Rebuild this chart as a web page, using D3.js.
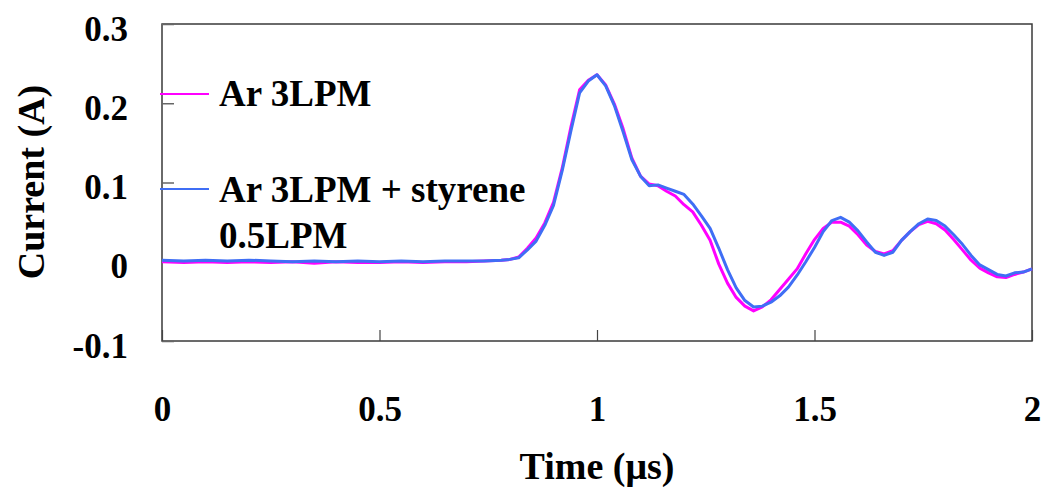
<!DOCTYPE html>
<html><head><meta charset="utf-8">
<script src="https://cdn.jsdelivr.net/npm/d3@7"></script>
<style>html,body{margin:0;padding:0;background:#fff;}svg{display:block;}</style>
</head><body>
<svg id="chart" width="1047" height="497"></svg>
<script>
const time = [0,0.05,0.10,0.15,0.20,0.25,0.30,0.35,0.40,0.45,0.50,0.55,0.60,0.65,0.70,0.74,0.78,
  0.80,0.82,0.84,0.86,0.88,0.90,0.92,0.94,0.96,0.98,1.00,
  1.02,1.04,1.06,1.08,1.10,1.12,1.14,1.16,1.18,1.20,
  1.22,1.24,1.26,1.28,1.30,1.32,1.34,1.36,1.38,1.40,
  1.42,1.44,1.46,1.48,1.50,1.52,1.54,1.56,1.58,1.60,
  1.62,1.64,1.66,1.68,1.70,1.72,1.74,1.76,1.78,1.80,
  1.82,1.84,1.86,1.88,1.90,1.92,1.94,1.96,1.98,2.00];
const arCurrent = [0.000,-0.001,0.000,-0.001,0.000,-0.001,0.000,-0.002,0.000,-0.001,-0.001,0.000,-0.001,0.000,0.000,0.001,0.002,
  0.003,0.006,0.017,0.030,0.049,0.075,0.118,0.170,0.217,0.229,0.236,
  0.223,0.199,0.168,0.131,0.108,
  0.098,0.096,0.089,0.083,0.072,
  0.063,0.046,0.027,-0.003,-0.027,
  -0.045,-0.056,-0.062,-0.057,-0.048,
  -0.035,-0.022,-0.009,0.010,0.028,
  0.042,0.050,0.050,0.045,0.034,
  0.021,0.013,0.010,0.014,0.027,
  0.038,0.047,0.051,0.048,0.040,
  0.028,0.015,0.002,-0.008,-0.014,
  -0.019,-0.020,-0.016,-0.013,-0.009];
const styreneCurrent = [0.002,0.001,0.002,0.001,0.002,0.001,0.000,0.001,0.000,0.001,0.000,0.001,0.000,0.001,0.001,0.001,0.002,
  0.003,0.005,0.015,0.026,0.046,0.071,0.115,0.165,0.213,0.228,0.236,
  0.222,0.197,0.164,0.129,0.108,
  0.096,0.097,0.093,0.089,0.085,
  0.073,0.058,0.042,0.017,-0.010,
  -0.033,-0.049,-0.057,-0.056,-0.051,
  -0.043,-0.032,-0.017,0.000,0.018,
  0.038,0.052,0.056,0.050,0.039,
  0.025,0.012,0.008,0.012,0.027,
  0.038,0.048,0.054,0.052,0.045,
  0.034,0.022,0.008,-0.004,-0.010,
  -0.016,-0.018,-0.014,-0.013,-0.009];
const seriesNames = ["Ar 3LPM", "Ar 3LPM + styrene", "0.5LPM"];
const xTicks = [0, 0.5, 1, 1.5, 2];
const xTickLabels = ["0", "0.5", "1", "1.5", "2"];
const yTicks = [-0.1, 0, 0.1, 0.2, 0.3];
const yTickLabels = ["-0.1", "0", "0.1", "0.2", "0.3"];
const xTitle = "Time (μs)";
const yTitle = "Current (A)";

const svg = d3.select("#chart");
const pLeft = 162, pRight = 1032, pTop = 24, pBottom = 341;
const x = d3.scaleLinear().domain([0, 2]).range([pLeft, pRight]);
const y = d3.scaleLinear().domain([-0.1, 0.3]).range([pBottom, pTop]);
const font = "'Liberation Serif', 'Times New Roman', serif";
const axisColor = "#3a3a3a";

// frame
svg.append("rect").attr("x", pLeft).attr("y", pTop).attr("width", pRight - pLeft).attr("height", pBottom - pTop)
  .attr("fill", "none").attr("stroke", axisColor).attr("stroke-width", 1.5);

// y axis
const yAxis = svg.append("g").attr("transform", `translate(${pLeft},0)`)
  .call(d3.axisLeft(y).tickValues(yTicks).tickSize(-12).tickPadding(34)
    .tickFormat((d, i) => yTickLabels[i]));
yAxis.select(".domain").remove();
yAxis.selectAll("line").attr("stroke", "#666").attr("stroke-width", 1.5);
yAxis.selectAll("text").attr("dy", null).attr("y", 16)
  .attr("font-family", font).attr("font-weight", "bold").attr("font-size", 35).attr("fill", "#000");

// x axis
const xAxis = svg.append("g").attr("transform", `translate(0,${pBottom})`)
  .call(d3.axisBottom(x).tickValues(xTicks).tickSize(-11)
    .tickFormat((d, i) => xTickLabels[i]));
xAxis.select(".domain").remove();
xAxis.selectAll("line").attr("stroke", "#444").attr("stroke-width", 1.2);
xAxis.selectAll("text").attr("dy", null).attr("y", 80)
  .attr("font-family", font).attr("font-weight", "bold").attr("font-size", 35).attr("fill", "#000");

// titles
svg.append("text").attr("x", (pLeft + pRight) / 2).attr("y", 479).attr("text-anchor", "middle")
  .attr("font-family", font).attr("font-weight", "bold").attr("font-size", 38).text(xTitle);
svg.append("text").attr("transform", "translate(44,182) rotate(-90)").attr("text-anchor", "middle")
  .attr("font-family", font).attr("font-weight", "bold").attr("font-size", 38).text(yTitle);

// lines
const line = vals => d3.line().x((d, i) => x(time[i])).y(d => y(d))(vals);
svg.append("path").attr("d", line(arCurrent)).attr("fill", "none")
  .attr("stroke", "#ff00ff").attr("stroke-width", 3).attr("stroke-linejoin", "round");
svg.append("path").attr("d", line(styreneCurrent)).attr("fill", "none")
  .attr("stroke", "#3f6ef5").attr("stroke-width", 3).attr("stroke-linejoin", "round");

// legend
const leg = svg.append("g");
leg.append("line").attr("x1", 160).attr("x2", 209).attr("y1", 94).attr("y2", 94)
  .attr("stroke", "#ff00ff").attr("stroke-width", 2);
leg.append("text").attr("x", 219).attr("y", 106).text(seriesNames[0]);
leg.append("line").attr("x1", 160).attr("x2", 209).attr("y1", 189).attr("y2", 189)
  .attr("stroke", "#3f6ef5").attr("stroke-width", 2);
leg.append("text").attr("x", 219).attr("y", 202).text(seriesNames[1]);
leg.append("text").attr("x", 219).attr("y", 248).text(seriesNames[2]);
leg.selectAll("text").attr("font-family", font).attr("font-weight", "bold").attr("font-size", 37).attr("fill", "#000");
</script>
</body></html>
